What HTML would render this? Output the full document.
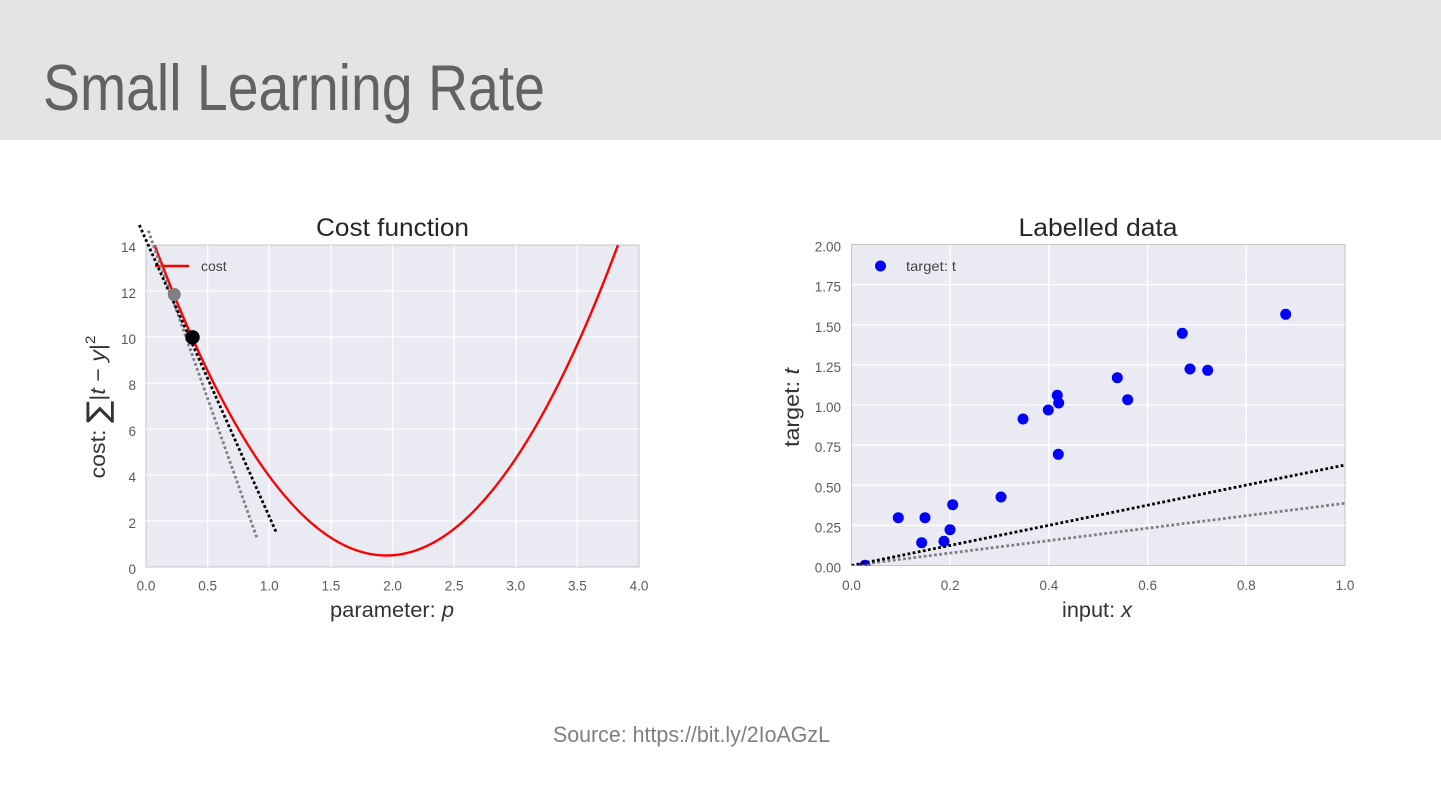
<!DOCTYPE html>
<html>
<head>
<meta charset="utf-8">
<style>
  html, body { margin: 0; padding: 0; background: #ffffff; }
  svg { display: block; }
  text { font-family: "Liberation Sans", Arial, sans-serif; }
</style>
</head>
<body>
<svg width="1441" height="809" viewBox="0 0 1441 809" xmlns="http://www.w3.org/2000/svg">
  <defs>
    <clipPath id="clipL"><rect x="146" y="245" width="493" height="322"/></clipPath>
    <clipPath id="clipR"><rect x="851.5" y="244.5" width="493.5" height="321"/></clipPath>
  </defs>

  <!-- Header band -->
  <rect x="0" y="0" width="1441" height="140" fill="#e4e4e4"/>
  <text x="43" y="110" font-size="65" fill="#626262" textLength="502" lengthAdjust="spacingAndGlyphs">Small Learning Rate</text>

  <!-- ================= LEFT CHART ================= -->
  <rect x="146" y="245" width="493" height="322" fill="#eaeaf2" stroke="#c4c4c4" stroke-width="1"/>
  <g stroke="#ffffff" stroke-width="1.3">
    <line x1="207.6" y1="245" x2="207.6" y2="567"/>
    <line x1="269.25" y1="245" x2="269.25" y2="567"/>
    <line x1="330.9" y1="245" x2="330.9" y2="567"/>
    <line x1="392.5" y1="245" x2="392.5" y2="567"/>
    <line x1="454.1" y1="245" x2="454.1" y2="567"/>
    <line x1="515.75" y1="245" x2="515.75" y2="567"/>
    <line x1="577.4" y1="245" x2="577.4" y2="567"/>
    <line x1="146" y1="521" x2="639" y2="521"/>
    <line x1="146" y1="475" x2="639" y2="475"/>
    <line x1="146" y1="429" x2="639" y2="429"/>
    <line x1="146" y1="383" x2="639" y2="383"/>
    <line x1="146" y1="337" x2="639" y2="337"/>
    <line x1="146" y1="291" x2="639" y2="291"/>
  </g>

  <!-- cost curve -->
  <path d="M154.6,245 Q386.3,866 618,245" fill="none" stroke="#ff0000" stroke-width="2.4" clip-path="url(#clipL)"/>

  <!-- legend -->
  <line x1="155" y1="266" x2="189" y2="266" stroke="#ff0000" stroke-width="2.4"/>
  <text x="201" y="271" font-size="14" fill="#444">cost</text>

  <!-- tangent lines -->
  <line x1="148.3" y1="230.7" x2="256.7" y2="537.3" stroke="#808080" stroke-width="2.8" stroke-dasharray="2.8 2.4"/>
  <line x1="139.3" y1="225" x2="276.7" y2="533.3" stroke="#000000" stroke-width="2.8" stroke-dasharray="2.8 2.4"/>

  <!-- dots -->
  <circle cx="174.3" cy="294.5" r="6.5" fill="#808080"/>
  <circle cx="192.5" cy="337.3" r="7.2" fill="#000000"/>

  <!-- title -->
  <text x="392.5" y="236" font-size="25" fill="#262626" text-anchor="middle" textLength="153" lengthAdjust="spacingAndGlyphs">Cost function</text>

  <!-- x tick labels -->
  <g font-size="13.5" fill="#5a5a5a" text-anchor="middle">
    <text x="146" y="590.5">0.0</text>
    <text x="207.6" y="590.5">0.5</text>
    <text x="269.25" y="590.5">1.0</text>
    <text x="330.9" y="590.5">1.5</text>
    <text x="392.5" y="590.5">2.0</text>
    <text x="454.1" y="590.5">2.5</text>
    <text x="515.75" y="590.5">3.0</text>
    <text x="577.4" y="590.5">3.5</text>
    <text x="639" y="590.5">4.0</text>
  </g>
  <!-- y tick labels -->
  <g font-size="13.5" fill="#5a5a5a" text-anchor="end">
    <text x="136" y="574">0</text>
    <text x="136" y="528">2</text>
    <text x="136" y="482">4</text>
    <text x="136" y="436">6</text>
    <text x="136" y="390">8</text>
    <text x="136" y="344">10</text>
    <text x="136" y="298">12</text>
    <text x="136" y="252">14</text>
  </g>

  <!-- x label -->
  <text x="392" y="617" font-size="21" fill="#333" text-anchor="middle" textLength="124" lengthAdjust="spacingAndGlyphs">parameter: <tspan font-style="italic">p</tspan></text>
  <!-- y label -->
  <text transform="translate(105,407) rotate(-90)" font-size="21" fill="#333" text-anchor="middle" textLength="143" lengthAdjust="spacingAndGlyphs">cost: <tspan font-size="30" font-family="DejaVu Sans, sans-serif" dy="3">∑</tspan><tspan dy="-3">|</tspan><tspan font-style="italic">t</tspan> − <tspan font-style="italic">y</tspan>|<tspan font-size="14" dy="-10">2</tspan></text>

  <!-- ================= RIGHT CHART ================= -->
  <rect x="851.5" y="244.5" width="493.5" height="321" fill="#eaeaf2" stroke="#c4c4c4" stroke-width="1"/>
  <g stroke="#ffffff" stroke-width="1.3">
    <line x1="950.2" y1="244.5" x2="950.2" y2="565.5"/>
    <line x1="1048.9" y1="244.5" x2="1048.9" y2="565.5"/>
    <line x1="1147.6" y1="244.5" x2="1147.6" y2="565.5"/>
    <line x1="1246.3" y1="244.5" x2="1246.3" y2="565.5"/>
    <line x1="851.5" y1="525.4" x2="1345" y2="525.4"/>
    <line x1="851.5" y1="485.25" x2="1345" y2="485.25"/>
    <line x1="851.5" y1="445.1" x2="1345" y2="445.1"/>
    <line x1="851.5" y1="405" x2="1345" y2="405"/>
    <line x1="851.5" y1="364.9" x2="1345" y2="364.9"/>
    <line x1="851.5" y1="324.75" x2="1345" y2="324.75"/>
    <line x1="851.5" y1="284.6" x2="1345" y2="284.6"/>
  </g>

  <!-- scatter -->
  <g fill="#0000ff" clip-path="url(#clipR)">
    <circle cx="865" cy="565.3" r="5.5"/>
    <circle cx="898.3" cy="517.7" r="5.5"/>
    <circle cx="925" cy="517.7" r="5.5"/>
    <circle cx="921.7" cy="542.7" r="5.5"/>
    <circle cx="944" cy="541.3" r="5.5"/>
    <circle cx="950" cy="529.7" r="5.5"/>
    <circle cx="952.7" cy="504.7" r="5.5"/>
    <circle cx="1001" cy="497" r="5.5"/>
    <circle cx="1023" cy="419" r="5.5"/>
    <circle cx="1048.3" cy="410" r="5.5"/>
    <circle cx="1057.3" cy="395.3" r="5.5"/>
    <circle cx="1058.7" cy="403" r="5.5"/>
    <circle cx="1058.3" cy="454.3" r="5.5"/>
    <circle cx="1117.3" cy="377.7" r="5.5"/>
    <circle cx="1127.7" cy="399.7" r="5.5"/>
    <circle cx="1182.3" cy="333.3" r="5.5"/>
    <circle cx="1190" cy="369" r="5.5"/>
    <circle cx="1207.7" cy="370.3" r="5.5"/>
    <circle cx="1285.7" cy="314.3" r="5.5"/>
  </g>

  <!-- fit lines -->
  <g clip-path="url(#clipR)">
    <line x1="851.5" y1="565.5" x2="1345" y2="503.3" stroke="#808080" stroke-width="2.8" stroke-dasharray="2.8 2.4"/>
    <line x1="851.5" y1="565.5" x2="1345" y2="465" stroke="#000000" stroke-width="2.8" stroke-dasharray="2.8 2.4"/>
  </g>

  <!-- legend -->
  <circle cx="880.5" cy="266" r="5.5" fill="#0000ff"/>
  <text x="906" y="271" font-size="14" fill="#444" textLength="50" lengthAdjust="spacingAndGlyphs">target: t</text>

  <!-- title -->
  <text x="1098" y="236" font-size="25" fill="#262626" text-anchor="middle" textLength="159" lengthAdjust="spacingAndGlyphs">Labelled data</text>

  <!-- x tick labels -->
  <g font-size="13.5" fill="#5a5a5a" text-anchor="middle">
    <text x="851.5" y="590">0.0</text>
    <text x="950.2" y="590">0.2</text>
    <text x="1048.9" y="590">0.4</text>
    <text x="1147.6" y="590">0.6</text>
    <text x="1246.3" y="590">0.8</text>
    <text x="1345" y="590">1.0</text>
  </g>
  <!-- y tick labels -->
  <g font-size="13.5" fill="#5a5a5a" text-anchor="end">
    <text x="841" y="572.5">0.00</text>
    <text x="841" y="532.4">0.25</text>
    <text x="841" y="492.25">0.50</text>
    <text x="841" y="452.1">0.75</text>
    <text x="841" y="412">1.00</text>
    <text x="841" y="371.9">1.25</text>
    <text x="841" y="331.75">1.50</text>
    <text x="841" y="291.6">1.75</text>
    <text x="841" y="251.5">2.00</text>
  </g>

  <!-- x label -->
  <text x="1097" y="617" font-size="21" fill="#333" text-anchor="middle" textLength="70" lengthAdjust="spacingAndGlyphs">input: <tspan font-style="italic">x</tspan></text>
  <!-- y label -->
  <text transform="translate(799,407.5) rotate(-90)" font-size="21" fill="#333" text-anchor="middle" textLength="79" lengthAdjust="spacingAndGlyphs">target: <tspan font-style="italic">t</tspan></text>

  <!-- footer -->
  <text x="691.5" y="742" font-size="22" fill="#808080" text-anchor="middle" textLength="277" lengthAdjust="spacingAndGlyphs">Source: https://bit.ly/2IoAGzL</text>
</svg>
</body>
</html>
